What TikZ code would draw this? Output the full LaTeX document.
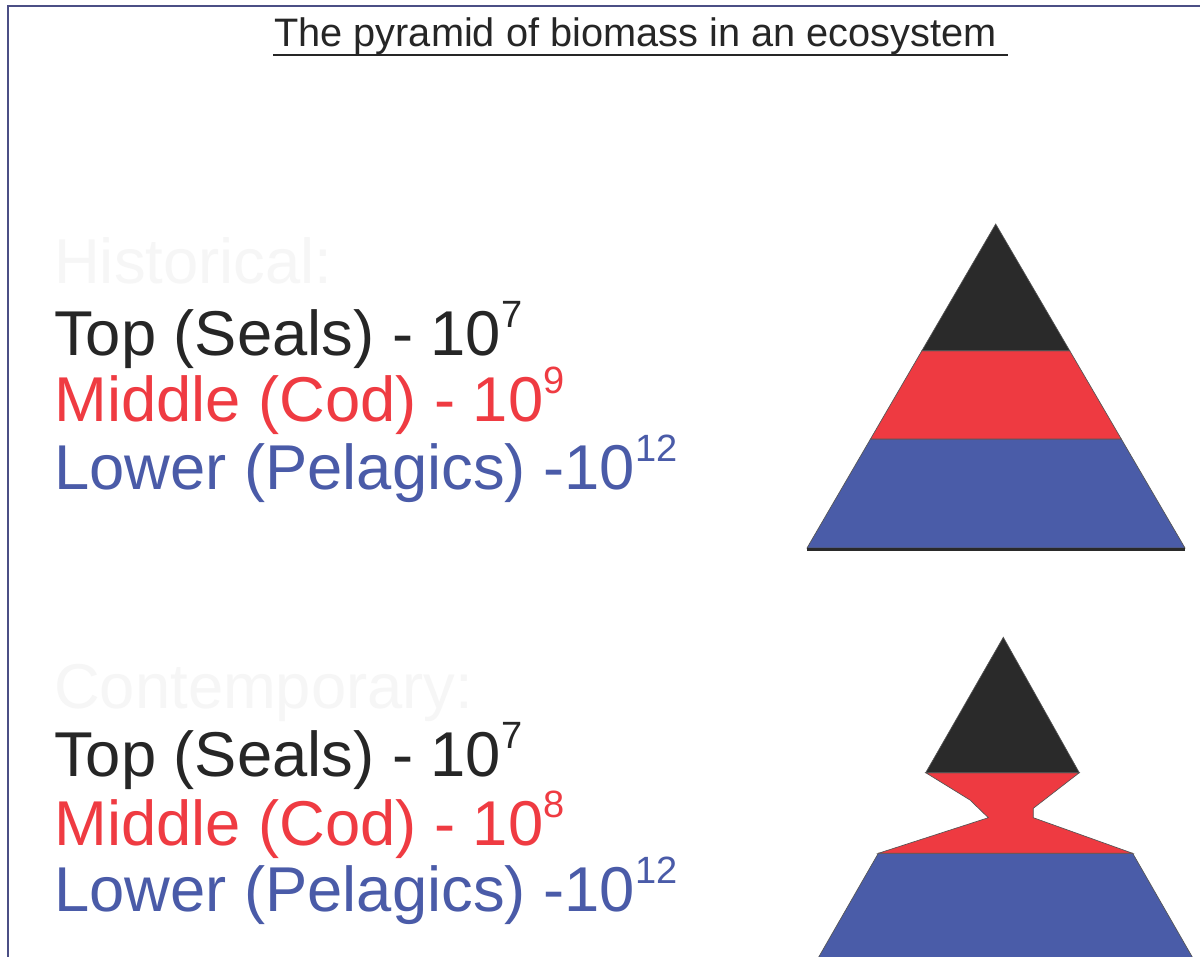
\documentclass[tikz,border=0pt]{standalone}
\usepackage{fontspec}
\setmainfont{Liberation Sans}
\definecolor{frameblue}{HTML}{4B4F85}
\definecolor{pblack}{HTML}{2A2A2A}
\definecolor{pred}{HTML}{EE3A41}
\definecolor{pblue}{HTML}{4A5CA8}
\definecolor{tblack}{HTML}{262626}
\definecolor{tred}{HTML}{EF3B42}
\definecolor{tblue}{HTML}{4A5BA8}
\definecolor{ghost}{HTML}{F6F6F6}
\newcommand{\pw}[1]{\raisebox{28\dimexpr 0.75pt\relax}{\fontsize{28.5}{30}\selectfont #1}}
\tikzset{
  big/.style={inner sep=0pt, anchor=base west, font=\fontsize{47.5}{50}\selectfont},
  layer/.style={draw=pblack!80, line width=0.5pt, line join=miter},
}
\begin{document}
\begin{tikzpicture}[x=0.75pt,y=-0.75pt]
\useasboundingbox (0,0) rectangle (1200,957);
\clip (0,0) rectangle (1200,957);
\fill[white] (0,0) rectangle (1200,957);
% frame
\draw[frameblue, line width=1.6pt] (8,970) -- (8,6) -- (1210,6);
% title
\node[inner sep=0pt, anchor=base west, text=tblack, font=\fontsize{29.8}{31}\selectfont] (title) at (274,46.7) {The pyramid of biomass in an ecosystem};
\draw[tblack, line width=2.2pt] (273,55) -- (1008,55);
% historical
\node[big, text=ghost] (hist) at (54,283.3) {Historical:};
\node[big, text=tblack] (h1) at (54,355) {Top (Seals) - 10\pw{7}};
\node[big, text=tred] (h2) at (54,421.7) {Middle (Cod) - 10\pw{9}};
\node[big, text=tblue] (h3) at (54,489.3) {Lower (Pelagics) -10\pw{12}};
% contemporary
\node[big, text=ghost] (cont) at (54,708.5) {Contemporary:};
\node[big, text=tblack] (c1) at (54,776.7) {Top (Seals) - 10\pw{7}};
\node[big, text=tred] (c2) at (54,845) {Middle (Cod) - 10\pw{8}};
\node[big, text=tblue] (c3) at (54,911.7) {Lower (Pelagics) -10\pw{12}};
% pyramid 1
\draw[layer, fill=pblue] (870.5,439) -- (1121.3,439) -- (1185,548) -- (807,548) -- cycle;
\draw[layer, fill=pred] (921.9,350.7) -- (1069.7,350.7) -- (1121.3,439) -- (870.5,439) -- cycle;
\draw[layer, fill=pblack] (995.7,224) -- (1069.7,350.7) -- (921.9,350.7) -- cycle;
\draw[pblack, line width=2.2pt] (807,549.5) -- (1185,549.5);
% pyramid 2
\draw[layer, fill=pblue] (878.3,853.3) -- (1132.7,853.3) -- (1194,960) -- (817,960) -- cycle;
\draw[layer, fill=pred] (925.7,772.7) -- (970,800) -- (988.3,817.7) -- (878.3,853.3) -- (1132.7,853.3) -- (1033.3,817.7) -- (1033.3,808.3) -- (1079.3,772.7) -- cycle;
\draw[layer, fill=pblack] (1003.3,637.3) -- (1079.3,772.7) -- (925.7,772.7) -- cycle;
\end{tikzpicture}
\end{document}
